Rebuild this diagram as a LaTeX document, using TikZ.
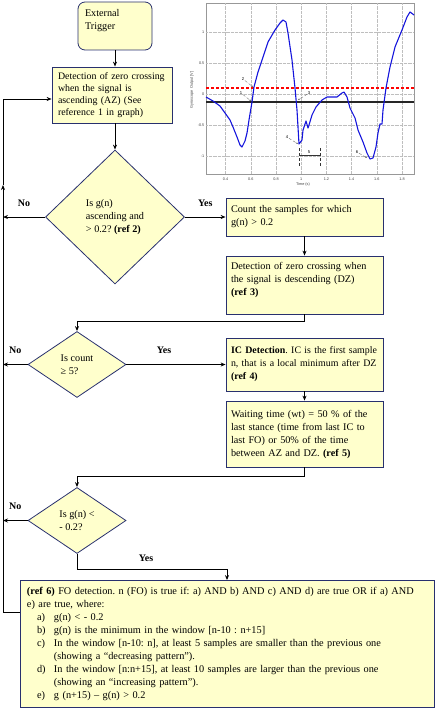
\documentclass[tikz,border=0pt]{standalone}
\usepackage{fontspec}
\setmainfont{Liberation Serif}
\newfontfamily\plotfont{Liberation Sans}
\usetikzlibrary{shapes.geometric,positioning,arrows.meta}

\definecolor{boxfill}{RGB}{255,255,204}
\definecolor{boxline}{RGB}{40,48,110}
\definecolor{gridgray}{RGB}{190,190,190}
\definecolor{curveblue}{RGB}{20,20,220}

\hyphenpenalty=10000
\frenchspacing
\newcommand\foitem[2]{\noindent\hangindent=27pt\hangafter=1\hspace*{10pt}\makebox[17pt][l]{#1}#2\par}

\tikzset{
  flowbox/.style={draw=boxline, fill=boxfill, line width=0.8pt, align=left,
    inner xsep=5pt, inner ysep=2pt, font=\fontsize{10.2}{13}\selectfont},
  startbox/.style={flowbox, rounded corners=7pt},
  decision/.style={diamond, draw=boxline, fill=boxfill, line width=0.8pt,
    inner sep=0pt, align=left, font=\fontsize{10.2}{13}\selectfont},
  link/.style={->, line width=0.9pt},
  answer/.style={font=\bfseries\fontsize{10}{12}\selectfont},
  ticklabel/.style={font=\plotfont\fontsize{3.8}{4}\selectfont, text=black!75, inner sep=0.5pt},
  plotgrid/.style={gridgray, line width=0.3pt, densely dotted},
  pointer/.style={-{Stealth[length=2pt,width=1.6pt]}, black!60, line width=0.35pt, densely dashed},
  refnum/.style={font=\plotfont\fontsize{4.2}{5}\selectfont, inner sep=0.5pt}
}

\begin{document}
\begin{tikzpicture}[x=1pt, y=-1pt, >={Stealth[length=5pt,width=4pt]}, on grid]
  \useasboundingbox (0,0) rectangle (435,709);

  % flow chart
  \node[startbox, text width=60pt, inner xsep=7pt, minimum height=48pt] (trigger) at (115,26)
    {External\\Trigger\\\mbox{}};
  \node[flowbox, text width=108pt, inner xsep=6pt, minimum height=56pt,
    font=\fontsize{9.9}{12.2}\selectfont, below=69pt of trigger, xshift=-3pt] (az)
    {\mbox{Detection of zero crossing}\\when the signal is\\ascending (AZ) (See\\reference 1 in graph)};
  \node[decision, minimum width=139pt, minimum height=134pt,
    below=122pt of az, xshift=3pt] (d1)
    {Is g(n)\\ascending and\\> 0.2? \textbf{(ref 2)}};
  \node[flowbox, text width=147pt, minimum height=38pt, right=189.5pt of d1] (count)
    {Count the samples for which\\g(n) > 0.2};
  \node[flowbox, text width=147pt, minimum height=58pt, below=68pt of count] (dz)
    {\mbox{Detection of zero crossing when}\\\mbox{the signal is descending (DZ)}\\\textbf{(ref 3)}\\\mbox{}};
  \node[flowbox, text width=147pt, minimum height=53pt, font=\fontsize{9.9}{13}\selectfont,
    below=79.5pt of dz] (ic)
    {\mbox{\textbf{IC Detection}. IC is the first sample}\\\mbox{n, that is a local minimum after DZ}\\\textbf{(ref 4)}};
  \node[decision, minimum width=98pt, minimum height=66pt, left=227.5pt of ic] (d2)
    {Is count\\≥ 5?};
  \node[flowbox, text width=147pt, minimum height=66pt, below=69.5pt of ic] (wt)
    {\mbox{Waiting time (wt) = 50 \% of the}\\\mbox{last stance (time from last IC to}\\last FO) or 50\% of the time\\\mbox{between AZ and DZ. \textbf{(ref 5)}}};
  \node[decision, minimum width=98pt, minimum height=66pt, below=156pt of d2] (d3)
    {Is g(n) <\\- 0.2?};
  \node[draw=boxline, fill=boxfill, line width=0.8pt, text width=400pt, inner xsep=7pt,
    minimum height=127pt, font=\fontsize{10.3}{13}\selectfont,
    below=123.5pt of d3, xshift=150pt] (fo)
    {\noindent\textbf{(ref 6)} FO detection. n (FO) is true if: a) AND b) AND c) AND d) are true OR if a) AND\\
     e) are true, where:\par
     \foitem{a)}{g(n) < - 0.2}
     \foitem{b)}{g(n) is the minimum in the window [n-10 : n+15]}
     \foitem{c)}{In the window [n-10: n], at least 5 samples are smaller than the previous one\linebreak (showing a “decreasing pattern”).}
     \foitem{d)}{In the window [n:n+15], at least 10 samples are larger than the previous one\linebreak (showing an “increasing pattern”).}
     \foitem{e)}{g (n+15) – g(n) > 0.2}};

  \coordinate (up) at (3,185);

  \draw[link] (trigger.south) -- (trigger.south |- az.north);
  \draw[link] (d1.north |- az.south) -- (d1.north);
  \draw[link] (d1.east) -- (d1.east -| count.west) node[midway, above=7pt, answer] {Yes};
  \draw[link] (d1.west) -- (d1.west -| up) node[midway, above=7pt, answer] {No};
  \draw[link] (count.south) -- (dz.north);
  \draw[link] (dz.south) -- ++(0,7) -| (d2.north);
  \draw[link] (d2.east) -- (d2.east -| ic.west) node[pos=0.38, above=7pt, answer] {Yes};
  \draw[link] (d2.west) -- (d2.west -| up) node[midway, above=7pt, answer] {No};
  \draw[link] (ic.south) -- (wt.north);
  \draw[link] (wt.south) -- ++(0,9) -| (d3.north);
  \draw[link] (d3.west) -- (d3.west -| up) node[midway, above=7pt, answer] {No};
  \draw[link] (d3.south) -- ++(0,16) -| node[pos=0.23, above=5pt, answer] {Yes} (fo.north);
  \draw[link] ([yshift=32pt]fo.west) -| (up);
  \draw[link] (up) |- ([yshift=-4pt]az.west);

  % gyroscope graph
  \draw[gridgray!80!black, line width=0.4pt] (206,3) rectangle (414,174);
  \foreach \k/\t in {0/0.4,1/0.6,2/0.8,3/1,4/1.2,5/1.4,6/1.6,7/1.8} {
    \draw[plotgrid] ({225.6+25.2*\k},3) -- ({225.6+25.2*\k},174);
    \node[ticklabel] at ({225.6+25.2*\k},179) {\t};
  }
  \foreach \y/\t in {32/1,63/0.5,94/0,125/-0.5,156/-1} {
    \draw[plotgrid] (206,\y) -- (414,\y);
    \node[ticklabel, anchor=east] at (205,\y) {\t};
  }
  \node[ticklabel, rotate=90] at (192,90) {Gyroscope Output [V]};
  \node[ticklabel] at (303,185) {Time (s)};

  \draw[red, line width=1.2pt, densely dashed] (206,88) -- (414,88);
  \draw[black!85, line width=1.3pt] (206,102) -- (414,102);
  \draw[curveblue, line width=1.1pt, line join=round] plot coordinates {
    (206,97) (213,101) (220,106) (225,113) (230,120) (233,127) (237,137) (240,145)
    (242,147) (245,141) (247,133) (249,120) (252,102) (254,87) (258,72) (263,57)
    (268,42) (275,30) (280,23) (283,20) (286,22) (288,33) (292,60) (295,88)
    (297,110) (299,144) (302,140) (303,130) (306,121) (308,128) (309,125) (312,115)
    (316,107) (322,100) (327,97) (330,97) (337,97) (342,93) (344,92) (347,97)
    (350,108) (355,118) (358,130) (363,142) (367,153) (370,159) (373,158) (376,147)
    (378,133) (380,124) (382,124) (383,110) (386,88) (390,67) (395,47) (402,30)
    (407,17) (410,12) (414,15)};

  \node[refnum] (r1) at (241,93) {1};
  \node[refnum] (r2) at (243,79) {2};
  \node[refnum] (r3) at (309,93) {3};
  \node[refnum] (r4) at (287,137) {4};
  \node[refnum] (r5) at (309,152) {5};
  \node[refnum] (r6) at (357,152) {6};
  \draw[pointer] (r1) -- (251,101);
  \draw[pointer] (r2) -- (253,87);
  \draw[pointer] (r3) -- (298,100);
  \draw[pointer] (r4) -- (298,144);
  \draw[pointer] (r6) -- (367,158);
  \draw[black!80, line width=0.6pt, densely dashed] (299,148) -- (299,167) (320,148) -- (320,167);
  \draw[black!80, line width=0.6pt] (299,155) -- (320,155);
\end{tikzpicture}
\end{document}
